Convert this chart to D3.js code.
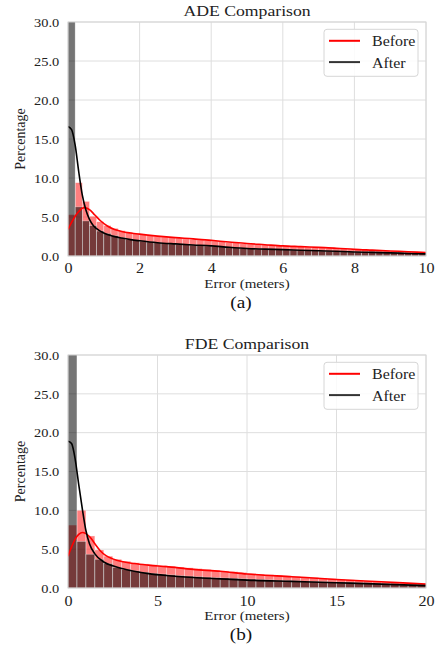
<!DOCTYPE html>
<html><head><meta charset="utf-8">
<script src="https://cdn.jsdelivr.net/npm/d3@7"></script>
<style>
html,body{margin:0;padding:0;background:#fff;}
svg{display:block;}
svg text{font-family:"Liberation Serif","Times New Roman",serif !important;}
</style>
</head><body>
<svg id="chart" width="438" height="656"></svg>
<script>
// ---------- DATA ----------
const yTicks = [0, 5, 10, 15, 20, 25, 30];
const seriesNames = ["Before", "After"];

// ADE panel
const adeTitle = "ADE Comparison";
const adeCaption = "(a)";
const adeXTicks = [0, 2, 4, 6, 8, 10];
const adeBinWidth = 0.2;
const adeBefore = [5.3, 9.4, 7.0, 5.1, 4.4, 3.9, 3.55, 3.25, 3.05, 2.9,
  2.75, 2.65, 2.55, 2.45, 2.35, 2.3, 2.2, 2.15, 2.05, 2.0,
  1.9, 1.85, 1.75, 1.7, 1.6, 1.55, 1.5, 1.45, 1.4, 1.35,
  1.3, 1.25, 1.2, 1.15, 1.1, 1.05, 1.0, 0.97, 0.93, 0.88,
  0.83, 0.8, 0.75, 0.7, 0.67, 0.63, 0.58, 0.55, 0.5, 0.47];
const adeAfter = [34, 6.3, 4.5, 3.9, 3.2, 2.9, 2.6, 2.35, 2.15, 2.0,
  1.9, 1.8, 1.7, 1.62, 1.55, 1.5, 1.45, 1.4, 1.35, 1.3,
  1.25, 1.2, 1.12, 1.05, 0.98, 0.94, 0.9, 0.88, 0.85, 0.82,
  0.8, 0.77, 0.74, 0.71, 0.68, 0.65, 0.62, 0.59, 0.56, 0.53,
  0.5, 0.48, 0.46, 0.44, 0.42, 0.39, 0.37, 0.34, 0.31, 0.29];
const adeBeforeKde = [[0,3.4],[0.1,4.3],[0.2,5.1],[0.3,5.7],[0.45,6.2],[0.6,5.95],[0.75,5.25],[0.9,4.55],
  [1.1,3.85],[1.3,3.4],[1.5,3.15],[1.75,2.95],[2,2.8],[2.5,2.55],[3,2.35],[3.5,2.2],[4,2.0],[4.5,1.8],
  [5,1.6],[5.5,1.45],[6,1.3],[6.5,1.2],[7,1.1],[7.5,1.0],[8,0.85],[8.5,0.75],[9,0.65],[9.5,0.55],[10,0.45]];
const adeAfterKde = [[0,16.6],[0.1,16.2],[0.2,14.2],[0.3,10.8],[0.4,7.8],[0.5,5.9],[0.6,4.7],[0.7,3.95],
  [0.8,3.5],[1.0,2.95],[1.25,2.55],[1.5,2.3],[1.75,2.1],[2,1.95],[2.5,1.7],[3,1.55],[3.5,1.42],[4,1.3],
  [4.5,1.12],[5,0.97],[5.5,0.88],[6,0.82],[6.5,0.74],[7,0.67],[7.5,0.6],[8,0.52],[8.5,0.46],[9,0.4],[9.5,0.33],[10,0.27]];

// FDE panel
const fdeTitle = "FDE Comparison";
const fdeCaption = "(b)";
const fdeXTicks = [0, 5, 10, 15, 20];
const fdeBinWidth = 0.5;
const fdeBefore = [8.1, 10.0, 6.7, 4.9, 4.1, 3.7, 3.45, 3.25, 3.1, 3.0,
  2.9, 2.8, 2.7, 2.6, 2.5, 2.4, 2.3, 2.2, 2.1, 2.0,
  1.9, 1.8, 1.72, 1.65, 1.58, 1.5, 1.43, 1.36, 1.28, 1.2,
  1.12, 1.05, 0.98, 0.9, 0.83, 0.77, 0.7, 0.63, 0.57, 0.5];
const fdeAfter = [34, 6.0, 4.35, 3.7, 3.15, 2.65, 2.4, 2.2, 2.0, 1.9,
  1.8, 1.7, 1.6, 1.53, 1.47, 1.4, 1.35, 1.3, 1.25, 1.2,
  1.15, 1.1, 1.05, 1.0, 0.96, 0.92, 0.88, 0.84, 0.8, 0.76,
  0.72, 0.68, 0.64, 0.6, 0.55, 0.5, 0.45, 0.4, 0.35, 0.3];
const fdeBeforeKde = [[0,4.1],[0.2,5.3],[0.4,6.3],[0.6,6.9],[0.8,7.15],[1.0,7.0],[1.25,6.5],[1.5,5.7],
  [1.8,4.8],[2.1,4.2],[2.5,3.75],[3,3.4],[3.7,3.15],[4.5,2.95],[5.5,2.75],[7,2.4],[8.5,2.15],[10,1.8],
  [12.5,1.45],[15,1.1],[17.5,0.8],[20,0.5]];
const fdeAfterKde = [[0,18.9],[0.2,18.6],[0.4,16.6],[0.6,13.3],[0.8,10.2],[1.0,7.4],[1.2,5.7],[1.5,4.4],
  [2,3.35],[2.5,2.85],[3,2.5],[3.7,2.15],[4.5,1.85],[5.5,1.6],[7,1.35],[8.5,1.18],[10,1.02],
  [12.5,0.85],[15,0.68],[17.5,0.5],[20,0.3]];

// ---------- DRAW ----------
const svg = d3.select("#chart");
const FONT = "'Liberation Serif','Times New Roman',serif";
const SX = 1.18; // horizontal stretch of the original figure's text

const panels = [
  {title: adeTitle, caption: adeCaption, xTicks: adeXTicks, bw: adeBinWidth,
   before: adeBefore, after: adeAfter, beforeKde: adeBeforeKde, afterKde: adeAfterKde,
   top: 22, bottom: 256, id: "a"},
  {title: fdeTitle, caption: fdeCaption, xTicks: fdeXTicks, bw: fdeBinWidth,
   before: fdeBefore, after: fdeAfter, beforeKde: fdeBeforeKde, afterKde: fdeAfterKde,
   top: 355, bottom: 588, id: "b"}
];

const L = 68, R = 426;

panels.forEach(p => {
  const xMax = p.xTicks[p.xTicks.length - 1];
  const x = d3.scaleLinear().domain([0, xMax]).range([L, R]);
  const y = d3.scaleLinear().domain([0, 30]).range([p.bottom, p.top]);
  const g = svg.append("g");

  g.append("clipPath").attr("id", "clip" + p.id)
    .append("rect").attr("x", L).attr("y", p.top).attr("width", R - L).attr("height", p.bottom - p.top);

  // grid
  g.append("g").selectAll("line").data(p.xTicks).join("line")
    .attr("x1", d => x(d)).attr("x2", d => x(d)).attr("y1", p.top).attr("y2", p.bottom)
    .attr("stroke", "#dedede").attr("stroke-width", 1);
  g.append("g").selectAll("line").data(yTicks).join("line")
    .attr("x1", L).attr("x2", R).attr("y1", d => y(d)).attr("y2", d => y(d))
    .attr("stroke", "#dedede").attr("stroke-width", 1);

  const plot = g.append("g").attr("clip-path", `url(#clip${p.id})`);

  // histograms
  const drawBars = (vals, color, op) => {
    plot.append("g").selectAll("rect").data(vals).join("rect")
      .attr("x", (d, i) => x(i * p.bw))
      .attr("width", (d, i) => x((i + 1) * p.bw) - x(i * p.bw))
      .attr("y", d => y(d))
      .attr("height", d => y(0) - y(d))
      .attr("fill", color).attr("fill-opacity", op)
      .attr("stroke", "#fff").attr("stroke-width", 0.6).attr("stroke-opacity", 0.55);
  };
  drawBars(p.before, "#ff0000", 0.5);
  drawBars(p.after, "#000000", 0.54);

  // kde lines
  const line = d3.line().x(d => x(d[0])).y(d => y(d[1])).curve(d3.curveMonotoneX);
  plot.append("path").datum(p.beforeKde).attr("d", line)
    .attr("fill", "none").attr("stroke", "#ff0000").attr("stroke-width", 1.6);
  plot.append("path").datum(p.afterKde).attr("d", line)
    .attr("fill", "none").attr("stroke", "#000").attr("stroke-width", 1.6);

  // frame
  g.append("rect").attr("x", L).attr("y", p.top).attr("width", R - L).attr("height", p.bottom - p.top)
    .attr("fill", "none").attr("stroke", "#d6d6d6").attr("stroke-width", 1);

  // axes
  const xa = g.append("g").attr("transform", `translate(0,${p.bottom})`)
    .call(d3.axisBottom(x).tickValues(p.xTicks).tickSize(0).tickPadding(0).tickFormat(d3.format("d")));
  xa.attr("font-family", FONT).attr("font-size", 14);
  xa.select(".domain").remove();
  xa.selectAll("text").attr("font-family", FONT).attr("font-size", 14).attr("fill", "#222")
    .attr("y", 0).attr("dy", null)
    .attr("transform", `translate(0,${p.id === "a" ? 17 : 17.5}) scale(1.15,1)`);

  const ya = g.append("g").attr("transform", `translate(${L},0)`)
    .call(d3.axisLeft(y).tickValues(yTicks).tickSize(0).tickPadding(0).tickFormat(d3.format(".1f")));
  ya.attr("font-family", FONT).attr("font-size", 12);
  ya.select(".domain").remove();
  ya.selectAll("text").attr("font-family", FONT).attr("font-size", 12).attr("fill", "#222")
    .attr("x", 0).attr("dy", null)
    .attr("transform", "translate(-8.7,4.2) scale(1.2,1)");

  // title
  g.append("text").attr("transform", `translate(${(L + R) / 2},${p.top - 6}) scale(${SX},1)`)
    .attr("font-family", FONT)
    .attr("text-anchor", "middle").attr("font-size", 15).attr("fill", "#222").text(p.title);

  // axis labels
  g.append("text").attr("transform", `translate(${(L + R) / 2},${p.bottom + 32}) scale(1.2,1)`)
    .attr("font-family", FONT)
    .attr("text-anchor", "middle").attr("font-size", 12.5).attr("fill", "#222").text("Error (meters)");
  g.append("text").attr("transform", `translate(25,${(p.top + p.bottom) / 2}) rotate(-90) scale(1,1.1)`)
    .attr("font-family", FONT)
    .attr("text-anchor", "middle").attr("font-size", 14).attr("fill", "#222").text("Percentage");

  // caption
  g.append("text").attr("transform", `translate(${(L + R) / 2 - 6},${p.bottom + 52}) scale(1.2,1)`)
    .attr("font-family", FONT)
    .attr("text-anchor", "middle").attr("font-size", 16).attr("fill", "#111").text(p.caption);

  // legend
  const lg = g.append("g").attr("transform", `translate(324,${p.top + 7.3})`);
  lg.append("rect").attr("x", 0).attr("y", 0).attr("width", 94).attr("height", 47).attr("rx", 3)
    .attr("fill", "#fff").attr("fill-opacity", 0.85).attr("stroke", "#d6d6d6").attr("stroke-width", 1);
  const legColors = ["#ff0000", "#333"];
  seriesNames.forEach((n, i) => {
    lg.append("line").attr("x1", 5).attr("x2", 36).attr("y1", 11.5 + i * 21.3).attr("y2", 11.5 + i * 21.3)
      .attr("stroke", legColors[i]).attr("stroke-width", 2);
    lg.append("text").attr("transform", `translate(48,${17 + i * 21.3}) scale(1.1,1)`)
      .attr("font-family", FONT)
      .attr("font-size", 14.5).attr("fill", "#222").text(n);
  });
});
</script>
</body></html>
